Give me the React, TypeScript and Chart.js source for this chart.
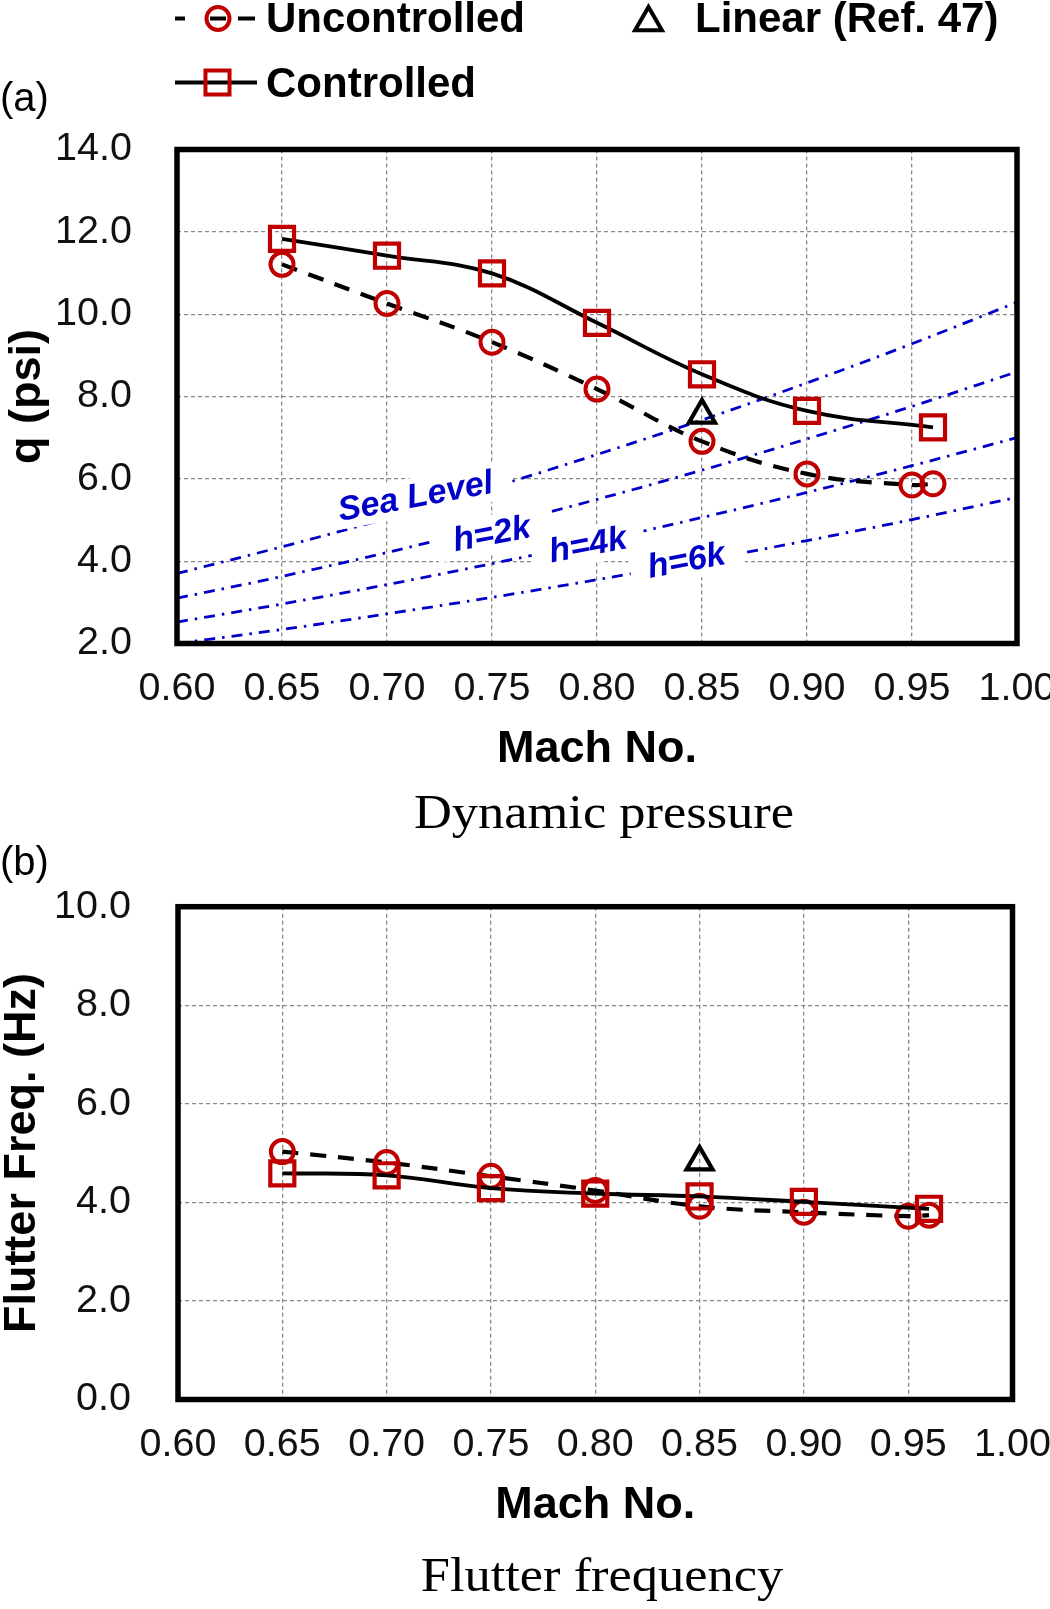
import React, { useEffect, useRef } from 'react';
import { Chart, registerables } from 'chart.js';
import { drawPoint } from 'chart.js/helpers';

Chart.register(...registerables);

// ---- data ----
const machUncontrolled = [0.65, 0.7, 0.75, 0.8, 0.85, 0.9, 0.95, 0.96];
const machControlled = [0.65, 0.7, 0.75, 0.8, 0.85, 0.9, 0.96];
const machLinear = [0.85];

const qUncontrolled = [11.21, 10.26, 9.32, 8.18, 6.91, 6.12, 5.85, 5.88];
const qControlled = [11.83, 11.42, 10.99, 9.79, 8.54, 7.65, 7.25];
const qLinear = [7.55];

const freqUncontrolled = [5.03, 4.81, 4.53, 4.24, 3.92, 3.8, 3.72, 3.74];
const freqControlled = [4.59, 4.55, 4.29, 4.18, 4.12, 4.01, 3.87];
const freqLinear = [4.82];

// constant-altitude dynamic pressure lines
const machAltitude = [0.6, 0.65, 0.7, 0.75, 0.8, 0.85, 0.9, 0.95, 1.0];
const qSeaLevel = [3.7, 4.35, 5.04, 5.79, 6.59, 7.43, 8.33, 9.28, 10.29];
const qH2k = [3.1, 3.63, 4.21, 4.84, 5.5, 6.21, 6.97, 7.76, 8.6];
const qH4k = [2.52, 2.96, 3.43, 3.94, 4.48, 5.06, 5.67, 6.32, 7.0];
const qH6k = [2.0, 2.34, 2.72, 3.12, 3.55, 4.01, 4.5, 5.01, 5.55];
const altitudeQ = [qSeaLevel, qH2k, qH4k, qH6k];
const altitudeNames = ['Sea Level', 'h=2k', 'h=4k', 'h=6k'];

const seriesNames = ['Uncontrolled', 'Controlled', 'Linear (Ref. 47)'];

const machTicks = [0.6, 0.65, 0.7, 0.75, 0.8, 0.85, 0.9, 0.95, 1.0];
const qTicks = [2, 4, 6, 8, 10, 12, 14];
const freqTicks = [0, 2, 4, 6, 8, 10];

// where the altitude names sit (data coords)
const altitudeLabelAt = [
  { x: 0.7136, y: 5.57 },
  { x: 0.75, y: 4.66 },
  { x: 0.7957, y: 4.39 },
  { x: 0.8426, y: 4.01 },
];

const FONT = '"Liberation Sans", Arial, Helvetica, sans-serif';
const SERIF = '"Liberation Serif", "Times New Roman", serif';
const RED = '#c00000';
const BLUE = '#0000c8';
const NONE = 'rgba(0,0,0,0)';

const pts = (xs: number[], ys: number[]) => xs.map((x, i) => ({ x, y: ys[i] }));

function seriesDatasets(uncY: number[], ctrlY: number[], linY: number[]) {
  return [
    {
      label: seriesNames[0],
      data: pts(machUncontrolled, uncY),
      borderColor: '#000',
      borderWidth: 4.2,
      borderDash: [16, 12],
      tension: 0.4,
      pointStyle: 'circle',
      pointRadius: 11.5,
      pointBorderWidth: 4,
      pointBorderColor: RED,
      pointBackgroundColor: NONE,
      order: 3,
    },
    {
      label: seriesNames[1],
      data: pts(machControlled, ctrlY),
      borderColor: '#000',
      borderWidth: 3.8,
      tension: 0.4,
      pointStyle: 'rect',
      pointRadius: 17,
      pointBorderWidth: 4.2,
      pointBorderColor: RED,
      pointBackgroundColor: NONE,
      order: 2,
    },
    {
      label: seriesNames[2],
      data: pts(machLinear, linY),
      showLine: false,
      pointStyle: 'triangle',
      pointRadius: 15,
      pointBorderWidth: 4.2,
      pointBorderColor: '#000',
      pointBackgroundColor: NONE,
      order: 1,
    },
  ];
}

const frame = {
  id: 'frame',
  afterDatasetsDraw(chart: any) {
    const { ctx, chartArea: a } = chart;
    ctx.save();
    ctx.strokeStyle = '#000';
    ctx.lineWidth = 5.5;
    ctx.strokeRect(a.left, a.top, a.right - a.left, a.bottom - a.top);
    ctx.restore();
  },
};

// white-backed rotated names on the altitude lines, drawn before the data series
const altitudeLabels = {
  id: 'altitudeLabels',
  beforeDatasetsDraw(chart: any) {
    chart.$altDone = false;
  },
  beforeDatasetDraw(chart: any, args: any) {
    if (chart.$altDone) return;
    const ds = chart.data.datasets[args.index];
    if (altitudeNames.includes(ds.label)) return;
    chart.$altDone = true;
    const { ctx, scales } = chart;
    ctx.save();
    ctx.font = `italic bold 34px ${FONT}`;
    altitudeNames.forEach((name, i) => {
      const px = scales.x.getPixelForValue(altitudeLabelAt[i].x);
      const py = scales.y.getPixelForValue(altitudeLabelAt[i].y);
      const w = ctx.measureText(name).width;
      ctx.save();
      ctx.translate(px, py);
      ctx.rotate((-10.5 * Math.PI) / 180);
      ctx.fillStyle = '#fff';
      ctx.fillRect(-w / 2 - 18, -19, w + 36, 38);
      ctx.fillStyle = BLUE;
      ctx.textAlign = 'center';
      ctx.textBaseline = 'middle';
      ctx.fillText(name, 0, 1);
      ctx.restore();
    });
    ctx.restore();
  },
};

const legendBlock = {
  id: 'legendBlock',
  afterDraw(chart: any) {
    const { ctx } = chart;
    ctx.save();
    ctx.strokeStyle = '#000';
    ctx.lineWidth = 4;
    // dashed sample through the circle
    [[175, 185], [210, 226], [238, 255]].forEach(([a, b]) => {
      ctx.beginPath();
      ctx.moveTo(a, 18.5);
      ctx.lineTo(b, 18.5);
      ctx.stroke();
    });
    // solid sample
    ctx.beginPath();
    ctx.moveTo(175, 82.5);
    ctx.lineTo(257, 82.5);
    ctx.stroke();

    ctx.fillStyle = NONE;
    ctx.strokeStyle = RED;
    drawPoint(ctx, { pointStyle: 'circle', radius: 11.5, borderWidth: 4, rotation: 0 }, 218, 18.5);
    drawPoint(ctx, { pointStyle: 'rect', radius: 17, borderWidth: 4.2, rotation: 0 }, 217.5, 82.5);
    ctx.strokeStyle = '#000';
    drawPoint(ctx, { pointStyle: 'triangle', radius: 15.5, borderWidth: 4, rotation: 0 }, 648.5, 22.5);

    ctx.fillStyle = '#000';
    ctx.font = `bold 42px ${FONT}`;
    ctx.textBaseline = 'alphabetic';
    ctx.textAlign = 'left';
    ctx.fillText(seriesNames[0], 266, 31.5);
    ctx.fillText(seriesNames[2], 695, 31.5);
    ctx.fillText(seriesNames[1], 266, 96.5);
    ctx.restore();
  },
};

interface PanelOpts {
  yTicks: number[];
  yTitle: string;
  yTitlePad: number;
  yAxisWidth: number;
  yTickPad: number;
  pad: { top: number; right: number; bottom: number; left: number };
}

function panelOptions(o: PanelOpts): any {
  const tickFont = { family: FONT, size: 39.5, lineHeight: 1 };
  const titleFont = { family: FONT, size: 45, weight: 'bold', lineHeight: 1 };
  const grid = { color: '#8a8a8a', lineWidth: 1.3, drawTicks: false };
  const border = { display: false, dash: [4, 3] };
  return {
    responsive: false,
    maintainAspectRatio: false,
    animation: false,
    events: [],
    layout: { padding: o.pad, autoPadding: false },
    plugins: { legend: { display: false }, tooltip: { enabled: false } },
    scales: {
      x: {
        type: 'linear',
        min: machTicks[0],
        max: machTicks[machTicks.length - 1],
        afterBuildTicks: (s: any) => {
          s.ticks = machTicks.map((value) => ({ value }));
        },
        afterFit: (s: any) => {
          s.height = 128.5;
          s.paddingLeft = 0;
          s.paddingRight = 0;
        },
        ticks: {
          callback: (v: any) => Number(v).toFixed(2),
          font: tickFont,
          color: '#111',
          padding: 25.5,
          autoSkip: false,
          maxRotation: 0,
        },
        grid,
        border,
        title: { display: true, text: 'Mach No.', font: titleFont, color: '#000', padding: 0 },
      },
      y: {
        type: 'linear',
        min: o.yTicks[0],
        max: o.yTicks[o.yTicks.length - 1],
        afterBuildTicks: (s: any) => {
          s.ticks = o.yTicks.map((value) => ({ value }));
        },
        afterFit: (s: any) => {
          s.width = o.yAxisWidth;
          s.paddingTop = 0;
          s.paddingBottom = 0;
        },
        ticks: {
          callback: (v: any) => Number(v).toFixed(1),
          font: tickFont,
          color: '#111',
          padding: o.yTickPad,
        },
        grid,
        border,
        title: {
          display: true,
          text: o.yTitle,
          font: titleFont,
          color: '#000',
          padding: { top: o.yTitlePad, bottom: 0 },
        },
      },
    },
  };
}

function pressureConfig(): any {
  return {
    type: 'line',
    data: {
      datasets: [
        ...seriesDatasets(qUncontrolled, qControlled, qLinear),
        ...altitudeNames.map((name, i) => ({
          label: name,
          data: pts(machAltitude, altitudeQ[i]),
          borderColor: BLUE,
          borderWidth: 2.8,
          borderDash: [11, 7, 2.5, 7],
          cubicInterpolationMode: 'monotone',
          pointRadius: 0,
          order: 10,
        })),
      ],
    },
    options: panelOptions({
      yTicks: qTicks,
      yTitle: 'q (psi)',
      yTitlePad: 5,
      yAxisWidth: 177,
      yTickPad: 45,
      pad: { top: 149.5, right: 33, bottom: 0, left: 0 },
    }),
    plugins: [altitudeLabels, frame, legendBlock],
  };
}

function frequencyConfig(): any {
  return {
    type: 'line',
    data: { datasets: seriesDatasets(freqUncontrolled, freqControlled, freqLinear) },
    options: panelOptions({
      yTicks: freqTicks,
      yTitle: 'Flutter Freq. (Hz)',
      yTitlePad: 0,
      yAxisWidth: 178,
      yTickPad: 47,
      pad: { top: 48.7, right: 37.5, bottom: 0, left: 0 },
    }),
    plugins: [frame],
  };
}

function ChartCanvas({ height, build }: { height: number; build: () => any }) {
  const ref = useRef<HTMLCanvasElement>(null);

  useEffect(() => {
    const chart = new Chart(ref.current as HTMLCanvasElement, build());
    return () => {
      chart.destroy();
    };
  }, [build]);

  return (
    <canvas ref={ref} width={1050} height={height} style={{ display: 'block', width: 1050, height }} />
  );
}

const captionStyle: React.CSSProperties = {
  position: 'absolute',
  fontFamily: SERIF,
  fontSize: 49,
  lineHeight: '49px',
  color: '#000',
  whiteSpace: 'nowrap',
  transform: 'translateX(-50%) scaleX(1.07)',
};

const panelTagStyle: React.CSSProperties = {
  position: 'absolute',
  left: 0,
  fontFamily: FONT,
  fontSize: 40,
  lineHeight: '40px',
  color: '#000',
};

export default function App() {
  return (
    <div
      style={{
        position: 'absolute',
        left: 0,
        top: 0,
        width: 1050,
        height: 1609,
        background: '#fff',
        overflow: 'hidden',
      }}
    >
      <div style={{ position: 'absolute', left: 0, top: 0 }}>
        <ChartCanvas height={772} build={pressureConfig} />
      </div>
      <div style={{ position: 'absolute', left: 0, top: 858 }}>
        <ChartCanvas height={670} build={frequencyConfig} />
      </div>
      <div style={{ ...panelTagStyle, top: 77 }}>(a)</div>
      <div style={{ ...panelTagStyle, top: 841 }}>(b)</div>
      <div style={{ ...captionStyle, left: 604, top: 787 }}>Dynamic pressure</div>
      <div style={{ ...captionStyle, left: 602, top: 1550 }}>Flutter frequency</div>
    </div>
  );
}
